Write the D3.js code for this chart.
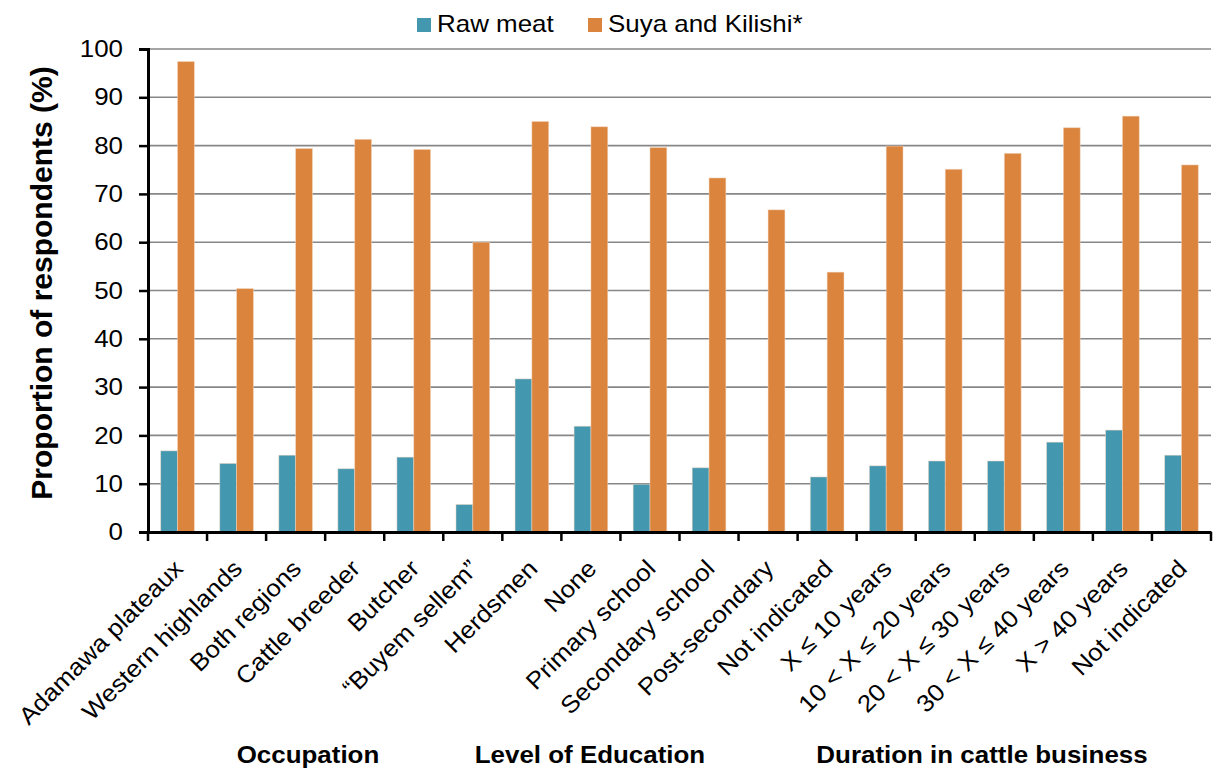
<!DOCTYPE html>
<html><head><meta charset="utf-8">
<script src="https://cdn.jsdelivr.net/npm/d3@7"></script>
<style>body{margin:0;background:#fff}svg{display:block;font-family:"Liberation Sans",Arial,sans-serif}</style>
</head><body><svg id="c" width="1219" height="769"></svg>
<script>
const categories = ["Adamawa plateaux","Western highlands","Both regions","Cattle breeder","Butcher","\u201CBuyem sellem\u201D","Herdsmen","None","Primary school","Secondary school","Post-secondary","Not indicated","X \u2264 10 years","10 < X \u2264 20 years","20 < X \u2264 30 years","30 < X \u2264 40 years","X > 40 years","Not indicated"];
const rawMeat = [16.8,14.2,15.9,13.1,15.5,5.7,31.7,21.9,9.9,13.3,0,11.4,13.7,14.7,14.7,18.6,21.1,15.9];
const suya = [97.4,50.4,79.4,81.3,79.2,60.0,85.0,83.9,79.6,73.3,66.7,53.8,79.9,75.1,78.4,83.7,86.1,76.0];
const seriesNames = ["Raw meat","Suya and Kilishi*"];
const yTicks = [0,10,20,30,40,50,60,70,80,90,100];
const groupNames = ["Occupation","Level of Education","Duration in cattle business"];
const colors = ["#4398B0","#DB843D"];

const svg = d3.select("#c");
const L=148,R=1211,T=49,B=532;
const STRETCH = 1.08;
const x = d3.scaleBand().domain(d3.range(categories.length)).range([L,R]).padding(0);
const y = d3.scaleLinear().domain([0,100]).range([B,T]);
const bw = x.bandwidth();
const barW = bw*0.285, off = bw*0.215;

function stretch(sel){
  sel.each(function(){
    const w = this.getComputedTextLength();
    d3.select(this).attr("textLength", w*STRETCH).attr("lengthAdjust","spacingAndGlyphs");
  });
}

// gridlines
svg.append("g").selectAll("line").data(yTicks.filter(d=>d>0)).join("line")
  .attr("x1",L).attr("x2",R).attr("y1",d=>y(d)).attr("y2",d=>y(d))
  .attr("stroke","#878787").attr("stroke-width",1.6);

// bars
const data = categories.map((c,i)=>({i,v:[rawMeat[i],suya[i]]}));
const g = svg.append("g");
[0,1].forEach(s=>{
  g.selectAll(".b"+s).data(data).join("rect")
    .attr("x",d=>x(d.i)+off+s*barW).attr("width",barW)
    .attr("y",d=>y(d.v[s])).attr("height",d=>B-y(d.v[s]))
    .attr("fill",colors[s]).attr("stroke","#f3d9c4").attr("stroke-opacity",0.6).attr("stroke-width",0.8)
    .style("display",d=>d.v[s]>0?null:"none");
});

// y axis
const ya = svg.append("g").attr("transform",`translate(${L},0)`)
  .call(d3.axisLeft(y).tickValues(yTicks).tickSize(9).tickPadding(16));
ya.select(".domain").attr("stroke","#000").attr("stroke-width",3);
ya.selectAll(".tick line").attr("stroke","#000").attr("stroke-width",2.5);
ya.selectAll("text").attr("font-size",24).attr("fill","#000").attr("font-family","Liberation Sans, Arial, sans-serif").call(stretch);

// x axis
const xa = svg.append("g").attr("transform",`translate(0,${B})`)
  .call(d3.axisBottom(x).tickValues([]).tickSize(0));
xa.select(".domain").attr("stroke","#000").attr("stroke-width",3);
const tickPos = d3.range(categories.length+1).map(i=> i<categories.length ? x(i) : R);
svg.append("g").selectAll("line").data(tickPos).join("line")
  .attr("x1",d=>d).attr("x2",d=>d).attr("y1",B).attr("y2",B+9)
  .attr("stroke","#000").attr("stroke-width",2.5);

svg.append("g").selectAll("text").data(categories).join("text")
  .attr("transform",(d,i)=>`translate(${x(i)+bw/2+7},${B+38}) rotate(-45)`)
  .attr("text-anchor","end").attr("font-size",24).attr("fill","#000")
  .text(d=>d).call(stretch);

// group labels
const groupX = [308,590,982];
svg.append("g").selectAll("text").data(groupNames).join("text")
  .attr("x",(d,i)=>groupX[i]).attr("y",763)
  .attr("text-anchor","middle").attr("font-size",24).attr("font-weight","bold").attr("fill","#000")
  .text(d=>d).call(stretch);

// y title
svg.append("text").attr("transform","translate(52,283) rotate(-90)")
  .attr("text-anchor","middle").attr("font-size",30).attr("font-weight","bold").text("Proportion of respondents (%)");

// legend
const lg = svg.append("g");
const lx=[417,588];
seriesNames.forEach((n,i)=>{
  lg.append("rect").attr("x",lx[i]).attr("y",18).attr("width",14).attr("height",14).attr("fill",colors[i]);
  lg.append("text").attr("x",lx[i]+20).attr("y",32).attr("font-size",24).attr("fill","#000").text(n).call(stretch);
});
</script></body></html>
